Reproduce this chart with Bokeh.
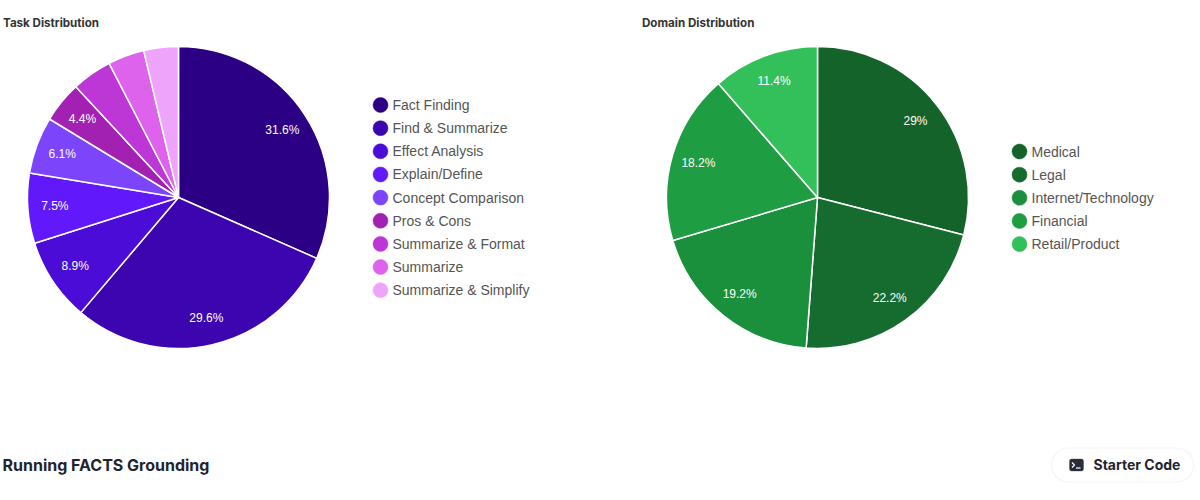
from math import pi, cos, sin
from bokeh.plotting import figure
from bokeh.models import Range1d, ColumnDataSource, BoxAnnotation
from bokeh.core.properties import value
from bokeh.embed import file_html
from bokeh.resources import INLINE

# ---- data ----
task_names = ["Fact Finding", "Find & Summarize", "Effect Analysis", "Explain/Define",
              "Concept Comparison", "Pros & Cons", "Summarize & Format", "Summarize",
              "Summarize & Simplify"]
task_values = [31.6, 29.6, 8.9, 7.5, 6.1, 4.4, 4.3, 3.9, 3.7]
task_labels = ["31.6%", "29.6%", "8.9%", "7.5%", "6.1%", "4.4%", "", "", ""]
task_colors = ["#2c0085", "#3c05b0", "#4c0cd8", "#6118fb", "#7d45fb",
               "#a221b3", "#bd36d6", "#dd62ec", "#efa4fb"]

domain_names = ["Medical", "Legal", "Internet/Technology", "Financial", "Retail/Product"]
domain_values = [29.0, 22.2, 19.2, 18.2, 11.4]
domain_labels = ["29%", "22.2%", "19.2%", "18.2%", "11.4%"]
domain_colors = ["#14632b", "#166b2f", "#1a8f3c", "#1e9d43", "#33bf59"]

# ---- page layout (pixels from the top left of the picture) ----
W, H = 1200, 500
RADIUS = 151
LABEL_R = 124

p = figure(width=W, height=H, output_backend="svg", toolbar_location=None,
           x_range=Range1d(0, W), y_range=Range1d(0, H), min_border=0,
           x_axis_type=None, y_axis_type=None, outline_line_color=None,
           background_fill_color="white", border_fill_color="white")
p.grid.visible = False


def Y(py):
    return H - py


def pie(cx, cy, values, labels, colors):
    starts, ends, lx, ly = [], [], [], []
    acc = 0.0
    total = sum(values)
    for v in values:
        a0 = pi / 2 - 2 * pi * acc / total
        a1 = pi / 2 - 2 * pi * (acc + v) / total
        mid = (a0 + a1) / 2
        starts.append(a1)
        ends.append(a0)
        lx.append(cx + LABEL_R * cos(mid))
        ly.append(Y(cy) + LABEL_R * sin(mid))
        acc += v
    src = ColumnDataSource(dict(s=starts, e=ends, c=colors, lx=lx, ly=ly, t=labels))
    p.wedge(x=cx, y=Y(cy), radius=RADIUS, start_angle="s", end_angle="e", fill_color="c",
            line_color="white", line_width=1.5, source=src)
    p.text(x="lx", y="ly", text="t", source=src, text_color="white",
           text_font=value("Liberation Sans"), text_font_size="12px",
           text_align="center", text_baseline="middle")


def legend(cx, tx, y0, names, colors, step=23.15):
    ys = [Y(y0 + i * step) for i in range(len(names))]
    src = ColumnDataSource(dict(y=ys, n=names, c=colors))
    p.scatter(x=cx, y="y", size=15, marker="circle", fill_color="c", line_color="c",
              line_width=0.5, source=src)
    p.text(x=tx, y="y", text="n", source=src, text_color="#555555",
           text_font=value("Liberation Sans"), text_font_size="14px",
           text_align="left", text_baseline="middle")


def label(x, py, s, size, color="#1f2430"):
    p.text(x=[x], y=[Y(py)], text=[s], text_color=color, text_font=value("Inter"),
           text_font_size=size, text_font_style="bold", text_align="left",
           text_baseline="middle")


pie(178, 197, task_values, task_labels, task_colors)
pie(817, 197, domain_values, domain_labels, domain_colors)
legend(380, 392, 104.5, task_names, task_colors)
legend(1019, 1031, 151, domain_names, domain_colors)

label(2.5, 22, "Task Distribution", "11.6px", "#333333")
label(641.5, 22, "Domain Distribution", "11.6px", "#333333")
label(2, 464.5, "Running FACTS Grounding", "16px")
label(1093, 464, "Starter Code", "14px")

# button outline and terminal icon
p.add_layout(BoxAnnotation(left=1051, right=1193, top=Y(447.5), bottom=Y(481.5),
                           fill_color="white", fill_alpha=1, line_color="#dcdde2",
                           line_width=1.2, border_radius=17, level="underlay"))
p.add_layout(BoxAnnotation(left=1069, right=1083, top=Y(458.5), bottom=Y(470.5),
                           fill_color="#2b2d3a", fill_alpha=1, line_color="#2b2d3a",
                           border_radius=2, level="underlay"))
p.line(x=[1071.5, 1074, 1071.5], y=[Y(462), Y(464.5), Y(467)], line_color="white", line_width=1.2)
p.line(x=[1075.5, 1080], y=[Y(467.5), Y(467.5)], line_color="white", line_width=1.2)

open("out.html", "w").write(file_html(p, INLINE))
